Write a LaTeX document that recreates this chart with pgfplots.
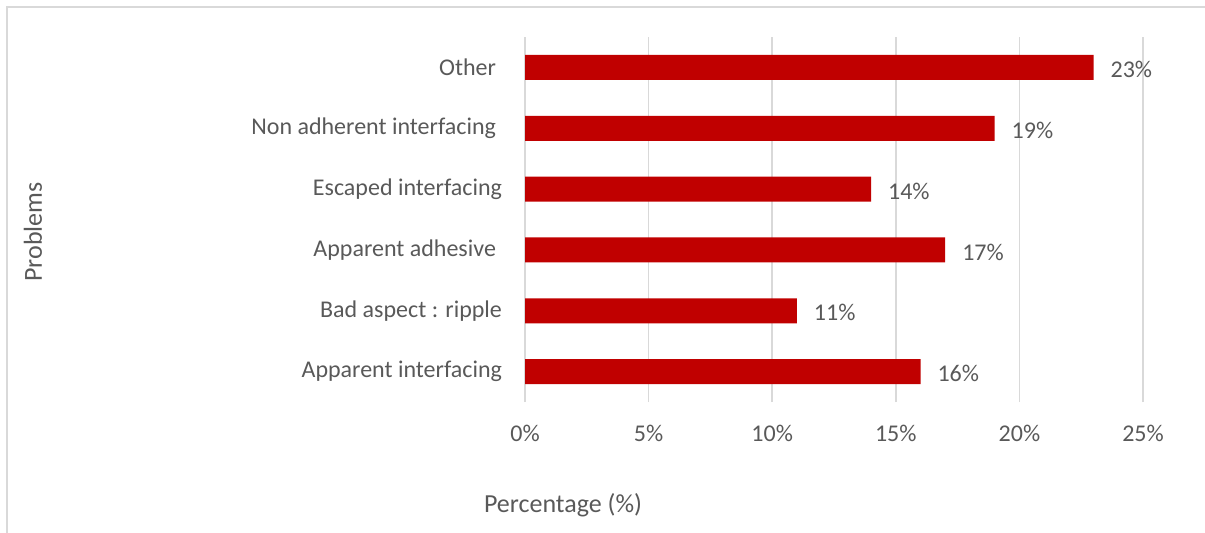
\documentclass[border=0pt]{standalone}
\usepackage{pgfplots}
\pgfplotsset{compat=1.18}
\usepackage{fontspec}
\setmainfont{Carlito}
\definecolor{barred}{HTML}{C00000}
\definecolor{txt}{HTML}{595959}
\definecolor{gridc}{HTML}{D9D9D9}
\begin{document}
\begin{tikzpicture}
\useasboundingbox (0,0) rectangle (602.5bp,266.5bp);
\draw[gridc, line width=1bp] (3.5bp,-20bp) -- (3.5bp,263bp) -- (640bp,263bp);
\begin{axis}[
  at={(262.5bp,65.5bp)}, anchor=south west,
  scale only axis, width=309bp, height=182.5bp,
  xmin=0, xmax=25, ymin=-0.5, ymax=5.5,
  xbar, bar width=12.5bp,
  axis line style={draw=none},
  major tick length=0pt,
  xtick={0,5,...,25},
  xmajorgrids=true, ymajorgrids=false,
  major grid style={draw=gridc, line width=0.75bp},
  ytick={0,1,2,3,4,5},
  yticklabels={Apparent interfacing,Bad aspect : ripple,Apparent adhesive\kern3bp,Escaped interfacing,Non adherent interfacing\kern3bp,Other\kern3bp},
  /pgf/number format/assume math mode=true,
  xticklabel={\pgfmathprintnumber{\tick}\%},
  xticklabel style={anchor=center, yshift=-15.5bp, font=\fontsize{12bp}{14bp}\selectfont, text=txt},
  yticklabel style={anchor=east, xshift=-8bp, font=\fontsize{12bp}{14bp}\selectfont, text=txt},
  nodes near coords={\pgfmathprintnumber{\pgfplotspointmeta}\%},
  nodes near coords style={anchor=west, xshift=5bp, yshift=-1bp, font=\fontsize{12bp}{14bp}\selectfont, text=txt},
  clip=false,
]
\addplot[fill=barred, draw=none] coordinates {(16,0) (11,1) (17,2) (14,3) (19,4) (23,5)};
\end{axis}
\node[rotate=90, text=txt, font=\fontsize{13bp}{15bp}\selectfont] at (16.5bp,150.5bp) {Problems};
\node[text=txt, font=\fontsize{13bp}{15bp}\selectfont] at (281.5bp,14bp) {Percentage (\%)};
\end{tikzpicture}
\end{document}
